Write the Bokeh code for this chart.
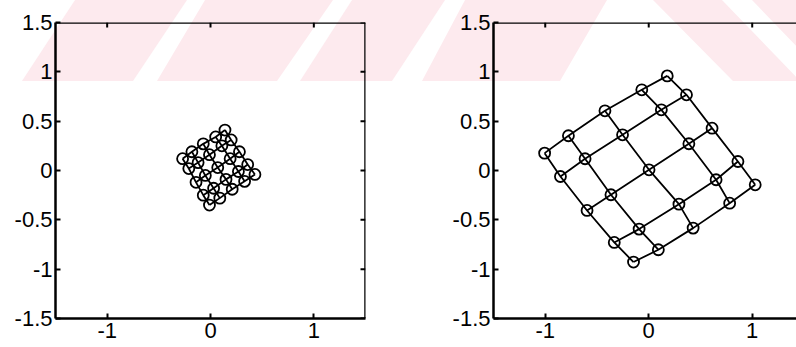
import math
import urllib.parse

from bokeh.embed import file_html
from bokeh.layouts import row
from bokeh.models import FixedTicker, LinearAxis, Range1d, Span
from bokeh.plotting import figure
from bokeh.resources import INLINE

# Tick positions and their printed labels
x_ticks = [-1, 0, 1]
x_tick_labels = ["-1", "0", "1"]
y_ticks = [-1.5, -1, -0.5, 0, 0.5, 1, 1.5]
y_tick_labels = ["-1.5", "-1", "-0.5", "0", "0.5", "1", "1.5"]

# 5x5 lattice of node positions, early stage (one list per lattice row)
early_x = [
    [-0.27, -0.18, -0.07, 0.05, 0.14],
    [-0.21, -0.12, -0.01, 0.11, 0.20],
    [-0.14, -0.05, 0.07, 0.19, 0.28],
    [-0.07, 0.03, 0.15, 0.27, 0.36],
    [-0.01, 0.09, 0.21, 0.33, 0.43],
]
early_y = [
    [0.12, 0.19, 0.27, 0.34, 0.41],
    [0.02, 0.08, 0.16, 0.25, 0.31],
    [-0.12, -0.05, 0.03, 0.12, 0.19],
    [-0.25, -0.18, -0.09, -0.01, 0.06],
    [-0.35, -0.28, -0.19, -0.11, -0.04],
]

# 5x5 lattice of node positions, final stage
late_x = [
    [-1.006, -0.776, -0.423, -0.067, 0.179],
    [-0.853, -0.615, -0.253, 0.122, 0.365],
    [-0.596, -0.365, 0.003, 0.388, 0.612],
    [-0.333, -0.093, 0.292, 0.651, 0.862],
    [-0.147, 0.093, 0.429, 0.782, 1.029],
]
late_y = [
    [0.176, 0.352, 0.605, 0.818, 0.959],
    [-0.061, 0.119, 0.362, 0.615, 0.767],
    [-0.405, -0.246, 0.007, 0.271, 0.429],
    [-0.729, -0.594, -0.341, -0.094, 0.091],
    [-0.928, -0.803, -0.584, -0.331, -0.145],
]

FONT = "Liberation Sans"
LABEL_SIZE = "22px"
HEIGHT = 347
BOX_WIDTH = 2.5
TICK_LEN = 5

# faint page watermark behind both panels (pixel polygons)
watermark_polys = [
    [(22, 81), (133, 81), (187, 0), (75, 0)],
    [(157, 81), (277, 81), (333, 0), (205, 0)],
    [(300, 81), (392, 81), (445, 0), (352, 0)],
    [(422, 81), (560, 81), (607, 0), (465, 0)],
    [(653, 0), (722, 0), (800, 81), (733, 81)],
    [(752, 0), (800, 0), (800, 50)],
]


def add_axis(p, side, ticks, labels):
    ax = LinearAxis(ticker=FixedTicker(ticks=ticks))
    ax.major_label_overrides = {t: s for t, s in zip(ticks, labels)}
    ax.axis_line_width = BOX_WIDTH
    ax.axis_line_color = "black"
    ax.major_tick_in = TICK_LEN
    ax.major_tick_out = 0
    ax.major_tick_line_width = 2
    ax.major_tick_line_color = "black"
    ax.minor_tick_line_color = None
    ax.major_label_text_font = FONT
    ax.major_label_text_font_size = LABEL_SIZE
    ax.major_label_text_color = "black"
    ax.major_label_standoff = 4 if side == "below" else 3
    p.add_layout(ax, side)


def make_panel(node_x, node_y, width, border_left, border_right, x_end, closed_box):
    p = figure(
        width=width,
        height=HEIGHT,
        x_range=Range1d(-1.5, x_end),
        y_range=Range1d(-1.5, 1.5),
        x_axis_location=None,
        y_axis_location=None,
        output_backend="svg",
        toolbar_location=None,
        min_border_left=border_left,
        min_border_right=border_right,
        min_border_top=22,
        min_border_bottom=29,
        background_fill_color=None,
        border_fill_color=None,
        outline_line_color=None,
    )
    p.xgrid.visible = False
    p.ygrid.visible = False

    add_axis(p, "below", x_ticks, x_tick_labels)
    add_axis(p, "left", y_ticks, y_tick_labels)

    # top edge of the box with inward ticks
    p.add_layout(Span(location=1.5, dimension="width", line_color="black", line_width=BOX_WIDTH))
    p.ray(x=x_ticks, y=[1.5] * len(x_ticks), length=TICK_LEN, length_units="screen",
          angle=-math.pi / 2, line_color="black", line_width=2)

    if closed_box:
        # right edge of the box with inward ticks
        p.add_layout(Span(location=1.5, dimension="height", line_color="black", line_width=BOX_WIDTH))
        p.ray(x=[1.5] * len(y_ticks), y=y_ticks, length=TICK_LEN, length_units="screen",
              angle=math.pi, line_color="black", line_width=2)

    # lattice links: along rows and along columns
    xs = [list(r) for r in node_x] + [[r[j] for r in node_x] for j in range(5)]
    ys = [list(r) for r in node_y] + [[r[j] for r in node_y] for j in range(5)]
    p.multi_line(xs, ys, line_color="black", line_width=1.8)

    flat_x = [v for r in node_x for v in r]
    flat_y = [v for r in node_y for v in r]
    p.scatter(flat_x, flat_y, marker="circle", size=11, fill_color=None,
              line_color="black", line_width=1.8)
    return p


left_panel = make_panel(early_x, early_y, 428, 55, 63, 1.5, True)
right_panel = make_panel(late_x, late_y, 368, 65, 0, 1.428, False)

shapes = "".join(
    "<polygon points='%s' fill='rgb(253,234,238)'/>" % " ".join("%d,%d" % pt for pt in poly)
    for poly in watermark_polys
)
svg = "<svg xmlns='http://www.w3.org/2000/svg' width='796' height='347'>%s</svg>" % shapes
bg = 'url("data:image/svg+xml;utf8,%s")' % urllib.parse.quote(svg)

layout = row(left_panel, right_panel, styles={
    "background-color": "white",
    "background-image": bg,
    "background-repeat": "no-repeat",
    "background-size": "796px 347px",
})

with open("out.html", "w") as f:
    f.write(file_html(layout, INLINE))
